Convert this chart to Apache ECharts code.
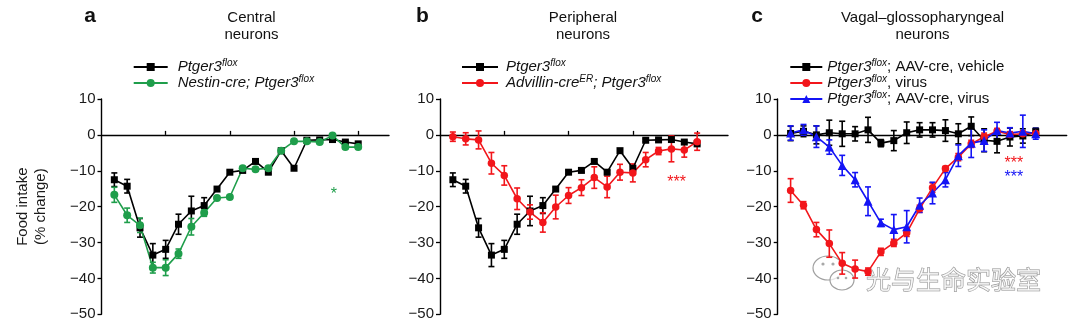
<!DOCTYPE html>
<html>
<head>
<meta charset="utf-8">
<script src="https://cdn.jsdelivr.net/npm/echarts@6/dist/echarts.min.js"></script>
<style>
  html, body { margin: 0; padding: 0; background: #ffffff; }
  #chart { width: 1080px; height: 325px; }
</style>
</head>
<body>
<div id="chart"></div>
<script>
// Hours after treatment (one point per hour)
const hours = [1, 2, 3, 4, 5, 6, 7, 8, 9, 10, 11, 12, 13, 14, 15, 16, 17, 18, 19, 20];
const xTicks = [5, 10, 15, 20];
const yTicks = [10, 0, -10, -20, -30, -40, -50];

// Ptger3 flox controls (panels a and b)
const floxMean = [-12.5, -14.3, -25.9, -33.5, -31.9, -24.9, -21.2, -19.7, -15.1, -10.4, -9.9, -7.4, -10.4, -4.4, -9.3, -1.5, -1.4, -1.3, -2.0, -2.5];
const floxSem  = [1.9, 1.9, 2.6, 3.2, 2.5, 2.8, 4.1, 2.2, 0.5, 0.5, 0.5, 0.5, 0.5, 0.5, 0.5, 0.4, 0.4, 0.4, 0.4, 0.4];

// Nestin-cre; Ptger3 flox (panel a)
const nestinMean = [-16.7, -22.4, -25.2, -37.0, -37.0, -33.1, -25.6, -21.7, -17.6, -17.3, -9.3, -9.6, -9.3, -4.4, -1.8, -1.8, -2.0, -0.2, -3.4, -3.4];
const nestinSem  = [2.1, 2.0, 2.0, 1.5, 2.2, 1.3, 2.3, 1.0, 0.5, 0.5, 0.5, 0.5, 0.5, 0.5, 0.4, 0.4, 0.4, 0.4, 0.5, 0.5];

// Advillin-creER; Ptger3 flox (panel b)
const advillinMean = [-0.5, -1.1, -1.4, -7.9, -11.3, -17.8, -21.5, -24.4, -20.1, -16.9, -14.7, -11.9, -14.5, -10.4, -10.6, -6.9, -4.5, -3.9, -4.2, -1.9];
const advillinSem  = [1.3, 1.7, 2.5, 3.0, 2.7, 3.0, 2.0, 2.7, 3.3, 2.2, 2.2, 3.0, 3.0, 2.2, 2.5, 2.0, 1.0, 3.6, 2.0, 2.4];

// Vagal–glossopharyngeal groups (panel c)
const vehicleMean = [0.4, 1.0, 0.0, 0.6, 0.3, 0.3, 1.4, -2.3, -1.6, 0.6, 1.4, 1.4, 1.2, 0.3, 2.4, -1.5, -1.8, -0.6, -0.3, 0.9];
const vehicleSem  = [2.0, 1.5, 2.5, 3.5, 3.5, 2.0, 3.5, 1.0, 2.8, 3.0, 2.0, 2.0, 3.0, 2.8, 2.6, 3.2, 3.2, 2.5, 2.0, 1.0];
const virusMean = [-15.5, -19.6, -26.4, -30.3, -35.8, -37.4, -38.1, -32.6, -30.1, -27.3, -20.6, -14.7, -9.4, -6.2, -2.5, -0.5, 1.0, 0.1, 0.3, 0.4];
const virusSem  = [3.3, 1.0, 2.0, 3.8, 3.0, 2.5, 1.0, 1.0, 1.0, 1.0, 1.0, 1.3, 0.6, 1.0, 1.0, 1.0, 0.8, 0.8, 0.8, 0.8];
const aavVirusMean = [0.5, 1.4, -0.5, -3.4, -8.5, -12.5, -18.5, -24.5, -26.4, -25.6, -19.6, -16.2, -12.5, -5.8, -2.3, -1.6, 1.2, 0.5, 1.0, 0.3];
const aavVirusSem  = [2.0, 1.5, 3.0, 2.0, 2.8, 2.0, 4.0, 1.0, 4.2, 4.5, 2.0, 3.0, 2.0, 3.0, 4.0, 3.0, 2.3, 1.5, 4.5, 1.5];

const FONT = '"Liberation Sans", Arial, Helvetica, sans-serif';
const BLACK = '#000000', GREEN = '#1f9e4b', RED = '#f2161b', BLUE = '#1414f5';

const names = {
  flox: 'Ptger3flox',
  nestin: 'Nestin-cre; Ptger3flox',
  advillin: 'Advillin-creER; Ptger3flox',
  vehicle: 'Ptger3flox; AAV-cre, vehicle',
  virus: 'Ptger3flox, virus',
  aav: 'Ptger3flox; AAV-cre, virus'
};
const legendRich = {
  [names.flox]: '{i|Ptger3}{s|flox}',
  [names.nestin]: '{i|Nestin-cre; Ptger3}{s|flox}',
  [names.advillin]: '{i|Advillin-cre}{s|ER}{i|; Ptger3}{s|flox}',
  [names.vehicle]: '{i|Ptger3}{s|flox}{n|; AAV-cre, vehicle}',
  [names.virus]: '{i|Ptger3}{s|flox}{n|, virus}',
  [names.aav]: '{i|Ptger3}{s|flox}{n|; AAV-cre, virus}'
};
const rich = {
  i: { fontFamily: FONT, fontSize: 15, fontStyle: 'italic', color: '#111', lineHeight: 17 },
  n: { fontFamily: FONT, fontSize: 15, color: '#111', lineHeight: 17 },
  s: { fontFamily: FONT, fontSize: 10, fontStyle: 'italic', color: '#111', lineHeight: 10, verticalAlign: 'top' }
};

function pairs(ys) { return hours.map((h, i) => [h, ys[i]]); }
function bars(ys, es) { return hours.map((h, i) => [h, ys[i] - es[i], ys[i] + es[i]]); }

function renderErr(params, api) {
  const x = api.value(0);
  const lo = api.coord([x, api.value(1)]);
  const hi = api.coord([x, api.value(2)]);
  const c = api.visual('color');
  const w = 3;
  const st = { stroke: c, lineWidth: 1.6 };
  return {
    type: 'group',
    children: [
      { type: 'line', shape: { x1: hi[0], y1: hi[1], x2: lo[0], y2: lo[1] }, style: st },
      { type: 'line', shape: { x1: hi[0] - w, y1: hi[1], x2: hi[0] + w, y2: hi[1] }, style: st },
      { type: 'line', shape: { x1: lo[0] - w, y1: lo[1], x2: lo[0] + w, y2: lo[1] }, style: st }
    ]
  };
}

// significance asterisks, placed in data coordinates of each panel
function renderStars(params, api) {
  const p = api.coord([api.value(0), api.value(1)]);
  return {
    type: 'text', x: p[0], y: p[1] + 4,
    style: { text: params.seriesName === 'sig-a' ? '*' : '***', fill: api.visual('color'),
             fontFamily: FONT, fontSize: 16, textAlign: 'center', textVerticalAlign: 'middle' }
  };
}

const grids = [
  { left: 101.5, top: 99, width: 287.5, height: 215.3 },
  { left: 440, top: 99, width: 288, height: 215.3 },
  { left: 777.7, top: 99, width: 289, height: 215.3 }
];

const xAxes = grids.map((g, i) => ({
  gridIndex: i, type: 'value', min: 0, max: 22.4,
  axisLine: { onZero: true, lineStyle: { color: '#000', width: 1.4 } },
  axisTick: { show: true, inside: true, length: 4, customValues: xTicks, lineStyle: { color: '#000', width: 1.3 } },
  axisLabel: { show: false },
  splitLine: { show: false }
}));

const yAxes = grids.map((g, i) => ({
  gridIndex: i, type: 'value', min: -50, max: 10, interval: 10,
  name: i === 0 ? 'Food intake\n(% change)' : '',
  nameLocation: 'middle', nameGap: 52, nameRotate: 90,
  nameTextStyle: { fontFamily: FONT, fontSize: 15, color: '#1a1a1a', lineHeight: 18 },
  axisLine: { show: true, onZero: false, lineStyle: { color: '#000', width: 1.4 } },
  axisTick: { show: true, length: 4, lineStyle: { color: '#000', width: 1.3 } },
  axisLabel: {
    fontFamily: FONT, fontSize: 15, color: '#1a1a1a', margin: 6,
    formatter: v => (v < 0 ? '\u2212' + Math.abs(v) : String(v))
  },
  splitLine: { show: false }
}));

function lineSeries(name, idx, ys, color, symbol, size) {
  return {
    name, type: 'line', xAxisIndex: idx, yAxisIndex: idx,
    data: pairs(ys), symbol, symbolSize: size, showSymbol: true,
    lineStyle: { color, width: 1.6 }, itemStyle: { color },
    emphasis: { disabled: true }, animation: false, z: 3
  };
}
function errSeries(tag, idx, ys, es, color) {
  return {
    name: tag, type: 'custom', xAxisIndex: idx, yAxisIndex: idx,
    data: bars(ys, es), renderItem: renderErr, itemStyle: { color },
    encode: { x: 0, y: [1, 2] }, animation: false, z: 3
  };
}
function stars(tag, idx, pos, color) {
  return {
    name: tag, type: 'custom', xAxisIndex: idx, yAxisIndex: idx, data: [pos],
    renderItem: renderStars, itemStyle: { color }, silent: true, animation: false, z: 4
  };
}

const series = [
  // panel a
  errSeries('err flox a', 0, floxMean, floxSem, BLACK),
  errSeries('err nestin', 0, nestinMean, nestinSem, GREEN),
  lineSeries(names.flox, 0, floxMean, BLACK, 'rect', 7),
  lineSeries(names.nestin, 0, nestinMean, GREEN, 'circle', 8),
  stars('sig-a', 0, [18.1, -15.5], GREEN),
  // panel b
  errSeries('err flox b', 1, floxMean, floxSem, BLACK),
  errSeries('err advillin', 1, advillinMean, advillinSem, RED),
  lineSeries(names.flox, 1, floxMean, BLACK, 'rect', 7),
  lineSeries(names.advillin, 1, advillinMean, RED, 'circle', 7.5),
  stars('sig-b', 1, [18.4, -12.1], RED),
  // panel c
  errSeries('err vehicle', 2, vehicleMean, vehicleSem, BLACK),
  errSeries('err virus', 2, virusMean, virusSem, RED),
  errSeries('err aav', 2, aavVirusMean, aavVirusSem, BLUE),
  lineSeries(names.vehicle, 2, vehicleMean, BLACK, 'rect', 7),
  lineSeries(names.virus, 2, virusMean, RED, 'circle', 7.5),
  lineSeries(names.aav, 2, aavVirusMean, BLUE, 'triangle', 9),
  stars('sig-c-virus', 2, [18.3, -6.9], RED),
  stars('sig-c-aav', 2, [18.3, -10.8], BLUE)
];

function legend(left, top, data, itemWidth, pad) {
  return {
    orient: 'vertical', left, top, data, itemWidth, itemHeight: 10, itemGap: 0,
    selectedMode: false, padding: 0,
    textStyle: { rich, padding: [0, 0, 0, pad] },
    formatter: n => legendRich[n]
  };
}

function titleText(x, y, text, size, weight) {
  return {
    type: 'text', x, y, silent: true,
    style: { text, fontFamily: FONT, fontSize: size, fontWeight: weight || 'normal', fill: '#111',
             textAlign: 'center', textVerticalAlign: 'middle', lineHeight: 17 }
  };
}

const option = {
  backgroundColor: '#ffffff',
  animation: false,
  grid: grids,
  xAxis: xAxes,
  yAxis: yAxes,
  legend: [
    legend(132.7, 58.5, [names.flox, names.nestin], 34, 5),
    legend(461, 58.5, [names.flox, names.advillin], 36, 3),
    legend(789.3, 58.5, [names.vehicle, names.virus, names.aav], 32, 0)
  ],
  series,
  graphic: [
    titleText(90, 16, 'a', 21, 'bold'),
    titleText(251.5, 26.5, 'Central\nneurons', 15),
    titleText(422.5, 16, 'b', 21, 'bold'),
    titleText(583, 26.5, 'Peripheral\nneurons', 15),
    titleText(757, 16, 'c', 21, 'bold'),
    titleText(922.5, 26.5, 'Vagal\u2013glossopharyngeal\nneurons', 15),
    // channel watermark
    {
      type: 'group', z: 100, silent: true, children: [
        { type: 'ellipse', shape: { cx: 828, cy: 268, rx: 15, ry: 12 },
          style: { fill: 'rgba(255,255,255,0.6)', stroke: '#a0a0a0', lineWidth: 1.2 } },
        { type: 'ellipse', shape: { cx: 842, cy: 280, rx: 12, ry: 10 },
          style: { fill: 'rgba(255,255,255,0.75)', stroke: '#a0a0a0', lineWidth: 1.2 } },
        { type: 'circle', shape: { cx: 823, cy: 264, r: 1.6 }, style: { fill: '#a8a8a8' } },
        { type: 'circle', shape: { cx: 833, cy: 264, r: 1.6 }, style: { fill: '#a8a8a8' } },
        { type: 'circle', shape: { cx: 838, cy: 278, r: 1.3 }, style: { fill: '#a8a8a8' } },
        { type: 'circle', shape: { cx: 846, cy: 278, r: 1.3 }, style: { fill: '#a8a8a8' } },
        { type: 'text', x: 866, y: 279,
          style: { text: '光与生命实验室', fontFamily: '"Noto Sans CJK SC", sans-serif', fontSize: 25,
                   fill: 'rgba(255,255,255,0.7)', stroke: '#8e8e8e', lineWidth: 1,
                   textAlign: 'left', textVerticalAlign: 'middle' } }
      ]
    }
  ]
};

const chart = echarts.init(document.getElementById('chart'), null, { renderer: 'canvas' });
chart.setOption(option);
</script>
</body>
</html>
